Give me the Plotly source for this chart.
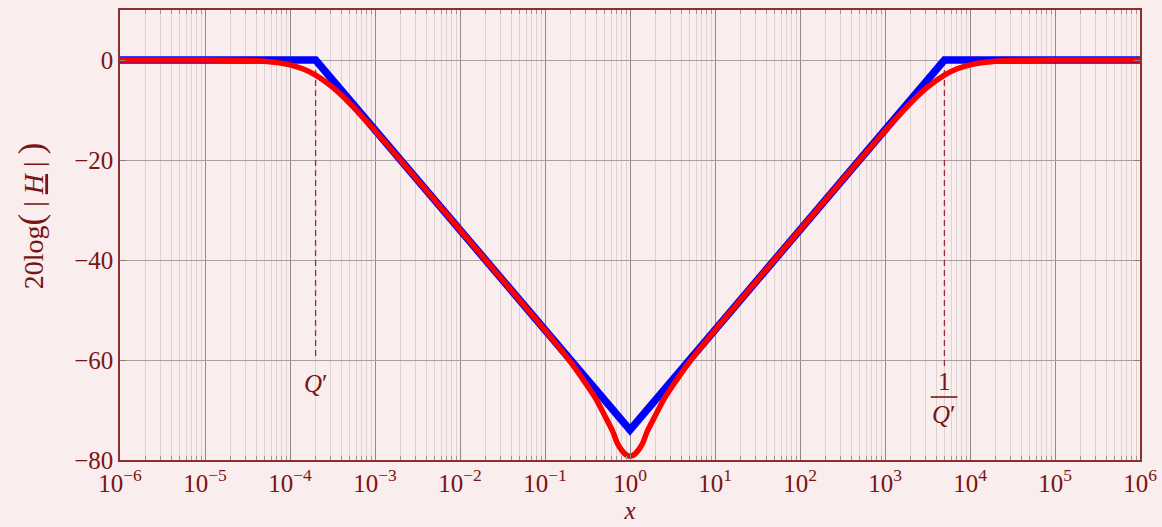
import math
import plotly.graph_objects as go

# ---- data ----
Qp = 2e-4          # Q'
Qp_inv = 5000      # 1/Q'

red_x = [1e-6, 1e-5, 3.16e-5, 5e-5, 1e-4, 1.41e-4, 2e-4, 3.16e-4, 5e-4, 1e-3,
         3.16e-3, 1e-2, 3.16e-2, 0.1, 0.2, 0.316, 0.398, 0.5, 0.631, 0.708,
         0.794, 0.891, 0.944, 1.0, 1.059, 1.122, 1.259, 1.413, 1.585, 2.0, 2.512, 3.16, 5.0,
         10.0, 31.6, 100.0, 316.0, 1000.0, 2000.0, 3160.0, 5000.0, 7080.0,
         1e4, 2e4, 3.16e4, 1e5, 1e6]
red_y = [0.0, -0.01, -0.11, -0.26, -0.97, -1.76, -3.01, -5.44, -8.60, -14.15,
         -24.0, -33.98, -43.99, -54.05, -60.4, -65.2, -67.8, -71.0, -74.4, -76.6,
         -78.0, -78.9, -79.15, -79.25, -79.15, -78.9, -78.0, -76.6, -74.4, -71.0, -67.8, -65.2, -60.4,
         -54.05, -43.99, -33.98, -24.0, -14.15, -8.60, -5.44, -3.01, -1.76,
         -0.97, -0.26, -0.11, -0.01, 0.0]

blue_x = [1e-6, 2e-4, 1.0, 5000.0, 1e6]
blue_y = [0.0, 0.0, -73.98, 0.0, 0.0]

dash_left_y = [0, -60]
dash_right_y = [0, -61.5]

x_tick_exp = list(range(-6, 7))
y_ticks = [0, -20, -40, -60, -80]

# ---- style ----
BG = "#f9eded"
TXT = "#7a1414"
FRAME = "#8a3030"
DASH = "#9b2d3a"
FONT = "Liberation Serif"
FS = 25

fig = go.Figure()

fig.add_trace(go.Scatter(x=[Qp, Qp], y=dash_left_y, mode="lines",
                         line=dict(color=DASH, width=1.3, dash="6px,4px"),
                         hoverinfo="skip", showlegend=False))
fig.add_trace(go.Scatter(x=[Qp_inv, Qp_inv], y=dash_right_y, mode="lines",
                         line=dict(color=DASH, width=1.3, dash="6px,4px"),
                         hoverinfo="skip", showlegend=False))

fig.add_trace(go.Scatter(x=blue_x, y=blue_y, mode="lines",
                         line=dict(color="#0000ff", width=7.5),
                         showlegend=False))
fig.add_trace(go.Scatter(x=red_x, y=red_y, mode="lines",
                         line=dict(color="#ff0000", width=5.5, shape="spline", smoothing=0.8),
                         showlegend=False))

# fraction bar for 1/Q'
fig.add_trace(go.Scatter(x=[3450, 7100], y=[-67.4, -67.4], mode="lines",
                         line=dict(color=TXT, width=1.6),
                         hoverinfo="skip", showlegend=False))

fig.add_annotation(x=math.log10(Qp), y=-64.6, text="<i>Q</i>′", showarrow=False,
                   font=dict(family=FONT, size=FS, color=TXT))
fig.add_annotation(x=math.log10(Qp_inv), y=-64.2, text="1", showarrow=False,
                   font=dict(family=FONT, size=FS, color=TXT))
fig.add_annotation(x=math.log10(Qp_inv), y=-70.9, text="<i>Q</i>′", showarrow=False,
                   font=dict(family=FONT, size=FS, color=TXT))

# y-axis title (as a rotated annotation, to place it like the reference)
big = "<span style='font-size:35px'>%s</span>"
ytitle = "20log" + big % "(" + "&nbsp;|&nbsp;<u><i>H</i></u>&nbsp;|&nbsp;" + big % ")"
fig.add_annotation(xref="paper", yref="y", x=-0.087, y=-31.2, text=ytitle,
                   textangle=-90, showarrow=False, xanchor="center", yanchor="middle",
                   font=dict(family=FONT, size=28, color=TXT))

minor_vals = [m * 10.0 ** e for e in range(-6, 6) for m in range(2, 10)]

fig.update_xaxes(
    type="log", range=[-6, 6], automargin=False,
    tickmode="array",
    tickvals=[10.0 ** e for e in x_tick_exp],
    ticktext=["10<sup>" + (str(e).replace("-", "−")) + "</sup>" for e in x_tick_exp],
    showgrid=True, gridcolor="#938b8b", gridwidth=1,
    ticks="inside", ticklen=6, tickcolor="#8a8080",
    showline=True, linecolor=FRAME, linewidth=1.5, mirror="ticks",
    tickfont=dict(family=FONT, size=FS, color=TXT),
    title=dict(text="<i>x</i>", font=dict(family=FONT, size=FS, color=TXT), standoff=2),
    minor=dict(tickmode="array", tickvals=minor_vals, showgrid=True,
               gridcolor="#ddd2d2", gridwidth=1, ticks="inside", ticklen=4,
               tickcolor="#a09696"),
    zeroline=False,
)
fig.update_yaxes(
    range=[-80, 10], automargin=False,
    tickmode="array", tickvals=y_ticks,
    ticktext=[("−" + str(-v)) if v < 0 else str(v) for v in y_ticks],
    showgrid=True, gridcolor="#a8a0a0", gridwidth=1,
    ticks="inside", ticklen=6, tickcolor="#8a8080",
    showline=True, linecolor=FRAME, linewidth=1.5, mirror="ticks",
    tickfont=dict(family=FONT, size=FS, color=TXT),
    zeroline=False,
)

fig.update_layout(
    width=1162, height=527,
    margin=dict(l=120, r=22, t=10, b=67, autoexpand=False),
    paper_bgcolor=BG, plot_bgcolor=BG,
    showlegend=False,
)

# remove the default 8px page margin so the figure fills the window exactly
fig.write_html("out.html",
               config={"displayModeBar": False},
               post_script="document.body.style.margin='0';"
                           "document.body.style.overflow='hidden';"
                           "document.body.style.backgroundColor='%s';" % BG)
